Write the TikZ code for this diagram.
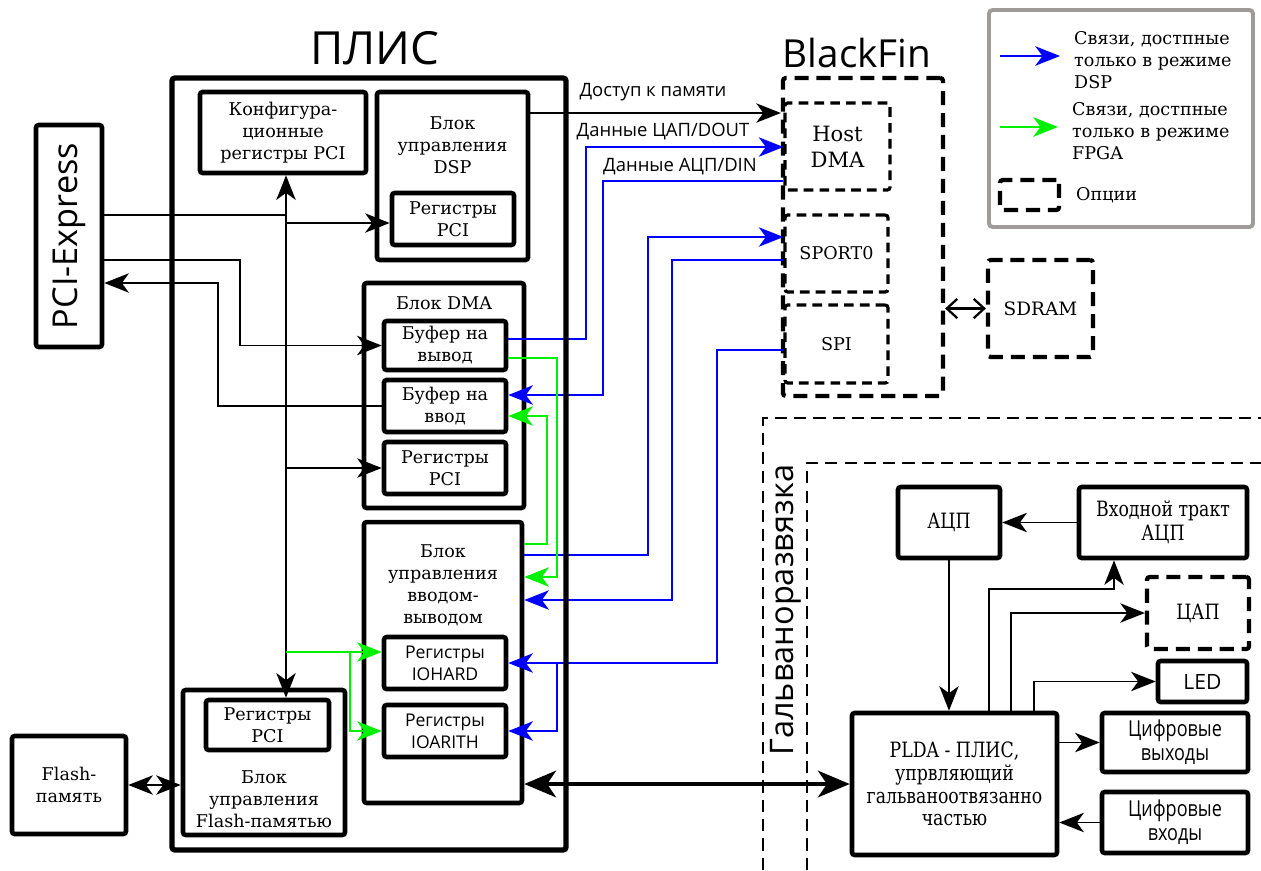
\documentclass[tikz,border=0pt]{standalone}
\usepackage{fontspec}
\setmainfont{DejaVu Serif}
\setsansfont{Open Sans}
\newfontfamily\uzkserif[FakeStretch=0.82]{DejaVu Serif}
\newfontfamily\uzksans[FakeStretch=0.82]{Open Sans}
\usetikzlibrary{arrows.meta}
\definecolor{rimgray}{RGB}{160,155,155}
\definecolor{fpgagreen}{RGB}{0,240,0}

\begin{document}
\begin{tikzpicture}[x=0.02cm,y=-0.02cm,
    every node/.style={font=\fontsize{10}{12.5}\selectfont,align=center},
    >={Stealth[length=14pt,width=11pt,inset=4pt]},
    blk/.style={draw,line width=2.6pt,rounded corners=1.5pt,inner sep=1pt},
    opt/.style={draw,line width=1.8pt,dash pattern=on 5.5pt off 3.5pt,rounded corners=1.5pt},
    optbig/.style={draw,line width=2.4pt,dash pattern=on 8pt off 4.5pt,rounded corners=1.5pt},
    lbl/.style={font=\sffamily\fontsize{10.5}{12}\selectfont},
    lnk/.style={line width=1.1pt,->},
    dsplink/.style={lnk,blue,line width=1.3pt},
    fpgalink/.style={lnk,fpgagreen,line width=1.3pt},
    big/.style={line width=2.8pt,{Stealth[length=18pt,width=15pt,inset=5pt]}-{Stealth[length=18pt,width=15pt,inset=5pt]}}]
    \useasboundingbox (0,0) rectangle (1261,870);
    % Заголовки и шина PCI-Express
    \node[font=\sffamily\fontsize{26}{30}\selectfont] (plistitle) at (375,48) {ПЛИС};
    \node[font=\sffamily\fontsize{22}{26}\selectfont] (bftitle) at (857,53) {BlackFin};
    \node[blk,minimum width=1.32cm,minimum height=4.44cm] (pcie) at (69,236) {};
    \node[rotate=90,font=\sffamily\fontsize{19.5}{22}\selectfont] (pcietxt) at (pcie) {PCI-Express};
    \node[blk,minimum width=2.28cm,minimum height=1.96cm] (flash) at (69,785) {Flash-\\память};
    % Блоки внутри ПЛИС
    \begin{scope}
        \node[blk,minimum width=3.32cm,minimum height=1.62cm] (cfg) at (283,132.5) {Конфигура-\\ционные\\регистры PCI};
        \node[blk,minimum width=3.02cm,minimum height=3.36cm] (dspblk) at (452.5,176) {};
        \node (dsptxt) at (452.5,145) {Блок\\управления\\DSP};
        \node[blk,minimum width=2.44cm,minimum height=1.04cm] (dspreg) at (453,219) {Регистры\\PCI};
        \node[blk,minimum width=3.2cm,minimum height=4.5cm] (dma) at (444,395.5) {};
        \node (dmatxt) at (444,303) {Блок DMA};
        \node[blk,minimum width=2.44cm,minimum height=0.98cm] (bufout) at (445,345.5) {Буфер на\\вывод};
        \node[blk,minimum width=2.44cm,minimum height=1.04cm] (bufin) at (445,406) {Буфер на\\ввод};
        \node[blk,minimum width=2.44cm,minimum height=1.04cm] (dmareg) at (445,468) {Регистры\\PCI};
        \node[blk,minimum width=3.16cm,minimum height=5.62cm] (ioctl) at (443,662.5) {};
        \node (iotxt) at (443,585) {Блок\\управления\\вводом-\\выводом};
        \node[blk,font=\sffamily\fontsize{10}{12.5}\selectfont,minimum width=2.44cm,minimum height=1.04cm] (iohard) at (445,663) {Регистры\\IOHARD};
        \node[blk,font=\sffamily\fontsize{10}{12.5}\selectfont,minimum width=2.44cm,minimum height=1.04cm] (ioarith) at (445,731) {Регистры\\IOARITH};
        \node[blk,minimum width=3.24cm,minimum height=2.9cm] (flctl) at (264,762.5) {};
        \node (fltxt) at (264,799) {Блок\\управления\\Flash-памятью};
        \node[blk,minimum width=2.46cm,minimum height=1.0cm] (flreg) at (267.5,725) {Регистры\\PCI};
    \end{scope}
    % BlackFin и SDRAM
    \begin{scope}
        \node[optbig,minimum width=3.2cm,minimum height=6.36cm] (bf) at (863,237) {};
        \node[opt,font=\fontsize{12}{15}\selectfont,minimum width=2.1cm,minimum height=1.74cm] (hostdma) at (837.5,146.5) {Host\\DMA};
        \node[opt,minimum width=2.06cm,minimum height=1.54cm] (sport) at (836.5,253.5) {SPORT0};
        \node[opt,minimum width=2.06cm,minimum height=1.56cm] (spi) at (836.5,344) {SPI};
        \node[optbig,font=\fontsize{10.5}{12.5}\selectfont,minimum width=2.1cm,minimum height=1.94cm] (sdram) at (1040.5,308.5) {SDRAM};
        \draw[line width=1.3pt,{Straight Barb[length=6pt,width=11pt]}-{Straight Barb[length=6pt,width=11pt]}] (bf.east |- sdram.west) -- (sdram.west);
    \end{scope}
    % Легенда
    \node[draw=rimgray,line width=2.2pt,rounded corners=2pt,minimum width=5.28cm,minimum height=4.34cm] (legend) at (1121,118.5) {};
    \coordinate (lgb1) at (1000,56);
    \coordinate (lgb2) at (1060,56);
    \draw[dsplink,line width=1.6pt] (lgb1) -- (lgb2);
    \node[anchor=west,align=left] (lgbtxt) at (1068,60) {Связи, достпные\\только в режиме\\DSP};
    \coordinate (lgg1) at (1000,127);
    \coordinate (lgg2) at (1058,127);
    \draw[fpgalink,line width=1.6pt] (lgg1) -- (lgg2);
    \node[anchor=west,align=left] (lggtxt) at (1066,131) {Связи, достпные\\только в режиме\\FPGA};
    \node[optbig,minimum width=1.18cm,minimum height=0.6cm] (lgopt) at (1029.5,195) {};
    \node[anchor=west] (lgopttxt) at (1070,195) {Опции};
    % Гальванически развязанная часть
    \begin{scope}
        \draw[line width=1.6pt,dash pattern=on 7pt off 4pt] (763,870) -- (763,418) -- (1261,418);
        \draw[line width=1.6pt,dash pattern=on 7pt off 4pt] (807,870) -- (807,463) -- (1261,463);
        \node[rotate=90,font=\sffamily\fontsize{18.5}{22}\selectfont] (galv) at (786,610) {Гальваноразвязка};
        \node[blk,font=\uzkserif\fontsize{12}{14}\selectfont,minimum width=2.04cm,minimum height=1.42cm] (adc) at (949,522.5) {АЦП};
        \node[blk,font=\uzkserif\fontsize{12}{13.5}\selectfont,minimum width=3.36cm,minimum height=1.42cm] (vhod) at (1163,522.5) {Входной тракт\\АЦП};
        \node[optbig,font=\uzkserif\fontsize{12}{14}\selectfont,minimum width=2.04cm,minimum height=1.44cm] (dac) at (1198,613) {ЦАП};
        \node[blk,font=\sffamily\fontsize{12}{14}\selectfont,minimum width=1.78cm,minimum height=0.82cm] (led) at (1202.5,681.5) {LED};
        \node[blk,font=\uzksans\fontsize{12.5}{13.5}\selectfont,minimum width=2.92cm,minimum height=1.18cm] (dout) at (1175,742.5) {Цифровые\\выходы};
        \node[blk,font=\uzksans\fontsize{12.5}{13.5}\selectfont,minimum width=2.92cm,minimum height=1.22cm] (din) at (1175,822.5) {Цифровые\\входы};
        \node[blk,font=\uzkserif\fontsize{12}{13}\selectfont,minimum width=4.1cm,minimum height=2.84cm] (plda) at (954.5,784) {PLDA - ПЛИС,\\упрвляющий\\гальваноотвязанно\\частью};
        \draw[lnk] (vhod.west) -- (adc.east);
        \draw[lnk] (adc.south) -- (adc.south |- plda.north);
        \coordinate (r1) at (989,589);
        \coordinate (r1b) at (1114,589);
        \draw[lnk] (plda.north -| r1) |- (r1b) -- (vhod.south -| r1b);
        \coordinate (r2) at (1011,612);
        \draw[lnk] (plda.north -| r2) |- (dac.west);
        \coordinate (r3) at (1034,680);
        \draw[lnk] (plda.north -| r3) |- (led.west);
        \draw[lnk] (plda.east |- dout.west) -- (dout.west);
        \draw[lnk] (din.west) -- (din.west -| plda.east);
    \end{scope}
    % Связи по PCI
    \coordinate (bus) at (286,215);
    \draw[lnk] (pcie.east |- bus) -- (bus) -- (bus |- cfg.south);
    \draw[lnk] (bus) -- (bus |- flreg.north);
    \draw[lnk] (bus |- 0,223) -- (dspreg.west |- 0,223);
    \draw[lnk] (bus |- dmareg.west) -- (dmareg.west);
    \coordinate (pw2) at (240,260);
    \draw[lnk] (pcie.east |- pw2) -- (pw2) |- (bufout.west);
    \coordinate (pw3) at (218,283);
    \draw[lnk] (bufin.west) -| (pw3) -- (pcie.east |- pw3);
    \draw[lnk,<->] (flash.east) -- (flash.east -| flctl.west);
    \draw[lnk] (dspblk.east |- 0,113) -- (bf.west |- 0,113);
    \node[lbl] (memlbl) at (653,92) {Доступ к памяти};
    % Связи режима DSP
    \coordinate (b1) at (586,147);
    \draw[dsplink] (bufout.east |- 0,339) -| (b1) -- (hostdma.west |- b1);
    \node[lbl] (doutlbl) at (663,132) {Данные ЦАП/DOUT};
    \coordinate (b2) at (603,181);
    \draw[dsplink] (hostdma.west |- b2) -- (b2) |- (bufin.east |- 0,395);
    \node[lbl] (dinlbl) at (680,167) {Данные АЦП/DIN};
    \coordinate (b3) at (648,237);
    \draw[dsplink] (ioctl.east |- 0,555) -| (b3) -- (sport.west |- b3);
    \coordinate (b4) at (672,260);
    \draw[dsplink] (sport.west |- b4) -- (b4) |- (ioctl.east |- 0,600);
    \coordinate (b5) at (717,350);
    \draw[dsplink] (spi.west |- b5) -- (b5) |- (iohard.east);
    \coordinate (b6) at (557,663);
    \draw[dsplink] (b6) |- (ioarith.east);
    % Связи режима FPGA
    \coordinate (g1) at (557,358);
    \draw[fpgalink] (bufout.east |- g1) -- (g1) |- (ioctl.east |- 0,577);
    \coordinate (g2) at (547,544);
    \draw[fpgalink] (ioctl.east |- g2) -- (g2) |- (bufin.east |- 0,416);
    \coordinate (g3) at (350,652);
    \draw[fpgalink] (bus |- g3) -- (iohard.west |- g3);
    \draw[fpgalink] (g3) |- (ioarith.west);
    % Связь с гальваноотвязанной частью
    \draw[big] (ioctl.east |- plda.west) -- (plda.west);
    % Корпус ПЛИС
    \node[blk,line width=3pt,minimum width=7.88cm,minimum height=15.44cm] (plis) at (369,464) {};
\end{tikzpicture}
\end{document}
